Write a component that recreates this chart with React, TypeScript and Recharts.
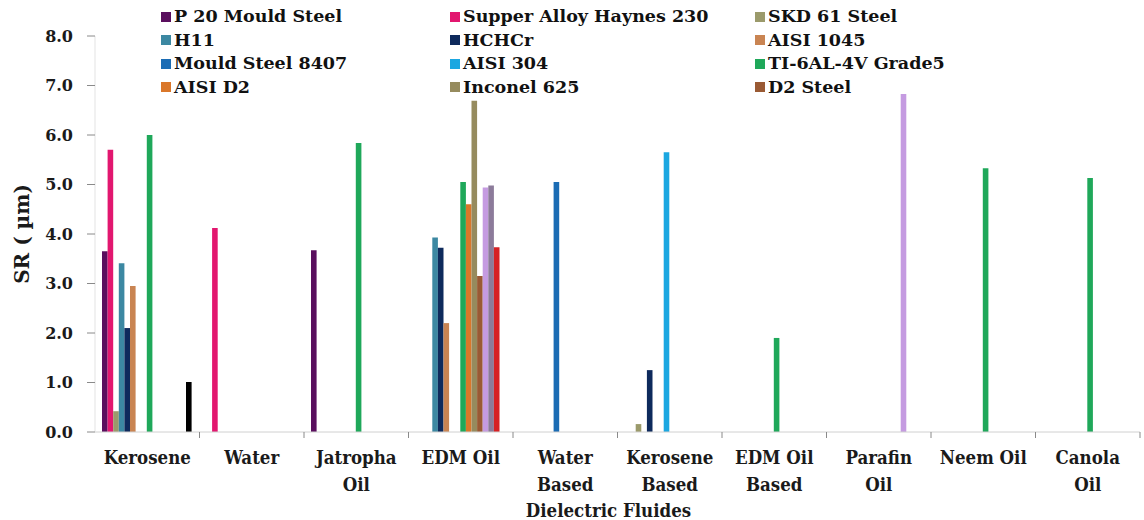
import React from 'react';
import { BarChart, Bar, XAxis, YAxis, Legend } from 'recharts';

const categories = [
  'Kerosene', 'Water', 'Jatropha\nOil', 'EDM Oil', 'Water\nBased',
  'Kerosene\nBased', 'EDM Oil\nBased', 'Parafin\nOil', 'Neem Oil', 'Canola\nOil',
];

const seriesNames = [
  'P 20 Mould Steel', 'Supper Alloy Haynes 230', 'SKD 61 Steel',
  'H11', 'HCHCr', 'AISI 1045',
  'Mould Steel 8407', 'AISI 304', 'TI-6AL-4V Grade5',
  'AISI D2', 'Inconel 625', 'D2 Steel',
  'Series 13', 'Series 14', 'Series 15', 'Series 16',
];

const seriesColors = [
  '#5a0f5e', '#e2176f', '#9b9a6b',
  '#3c88a2', '#0e2a5c', '#c98452',
  '#1b6cb4', '#1ba7e1', '#1fa85a',
  '#da772a', '#968b5e', '#9a5a34',
  '#c59be1', '#8c7b9a', '#d62024', '#000000',
];

const legendCount = 12;

const p20 = [3.65, null, 3.67, null, null, null, null, null, null, null];
const haynes = [5.7, 4.12, null, null, null, null, null, null, null, null];
const skd61 = [0.42, null, null, null, null, 0.16, null, null, null, null];
const h11 = [3.41, null, null, 3.93, null, null, null, null, null, null];
const hchcr = [2.1, null, null, 3.72, null, 1.25, null, null, null, null];
const aisi1045 = [2.95, null, null, 2.2, null, null, null, null, null, null];
const mould8407 = [null, null, null, null, 5.05, null, null, null, null, null];
const aisi304 = [null, null, null, null, null, 5.65, null, null, null, null];
const ti6al4v = [6.0, null, 5.84, 5.05, null, null, 1.9, null, 5.33, 5.13];
const aisiD2 = [null, null, null, 4.6, null, null, null, null, null, null];
const inconel625 = [null, null, null, 6.69, null, null, null, null, null, null];
const d2Steel = [null, null, null, 3.15, null, null, null, null, null, null];
const series13 = [null, null, null, 4.94, null, null, null, 6.83, null, null];
const series14 = [null, null, null, 4.98, null, null, null, null, null, null];
const series15 = [null, null, null, 3.73, null, null, null, null, null, null];
const series16 = [1.01, null, null, null, null, null, null, null, null, null];

const seriesValues = [
  p20, haynes, skd61, h11, hchcr, aisi1045, mould8407, aisi304,
  ti6al4v, aisiD2, inconel625, d2Steel, series13, series14, series15, series16,
];

const yTicks = [0, 1, 2, 3, 4, 5, 6, 7, 8];

const data = categories.map((c, i) => {
  const row: Record<string, any> = { name: c };
  seriesValues.forEach((vals, s) => {
    row['s' + s] = vals[i];
  });
  return row;
});

const FONT = "'DejaVu Serif', serif";
const TXT = '#1a1a1a';

const XTick = (props: any) => {
  const { x, y, payload, width, visibleTicksCount, index } = props;
  const bw = width / visibleTicksCount;
  const lines = String(payload.value).split('\n');
  return (
    <g>
      {index > 0 && (
        <line x1={x - bw / 2} x2={x - bw / 2} y1={y} y2={y + 6} stroke="#8a8a8a" strokeWidth={1} />
      )}
      {index === visibleTicksCount - 1 && (
        <line x1={x + bw / 2} x2={x + bw / 2} y1={y} y2={y + 6} stroke="#8a8a8a" strokeWidth={1} />
      )}
      <text
        x={x}
        y={y + 32}
        textAnchor="middle"
        style={{ fontFamily: FONT, fontWeight: 'bold', fontSize: 18.5, fontStretch: 'condensed' }}
        fill={TXT}
      >
        {lines.map((l, k) => (
          <tspan key={k} x={x} dy={k === 0 ? 0 : 27}>{l}</tspan>
        ))}
      </text>
    </g>
  );
};

const renderLegend = () => {
  const items = seriesNames.slice(0, legendCount).map((n, i) => ({ name: n, color: seriesColors[i] }));
  return (
    <div
      style={{
        display: 'grid',
        gridTemplateColumns: '289px 305px 300px',
        gridAutoRows: '23.5px',
        fontFamily: FONT,
        fontWeight: 'bold',
        fontSize: 17.5,
        color: '#111',
        lineHeight: '23.5px',
      }}
    >
      {items.map((it) => (
        <div key={it.name} style={{ display: 'flex', alignItems: 'center', whiteSpace: 'nowrap' }}>
          <span style={{ display: 'inline-block', width: 10, height: 10, background: it.color, marginRight: 3 }} />
          <span>{it.name}</span>
        </div>
      ))}
    </div>
  );
};

export default function App() {
  return (
    <div style={{ position: 'absolute', left: 0, top: 0, width: 1144, height: 520, background: '#fff' }}>
      <BarChart
        width={1144}
        height={520}
        data={data}
        margin={{ top: 36, right: 4, bottom: 0, left: 0 }}
        barGap={0}
      >
        <XAxis
          dataKey="name"
          height={88}
          axisLine={{ stroke: '#d0d0d0' }}
          tickLine={false}
          tickSize={0}
          tickMargin={0}
          interval={0}
          tick={<XTick />}
          label={{
            value: 'Dielectric Fluides',
            position: 'insideBottom',
            offset: 3,
            dx: -9,
            style: { fontFamily: FONT, fontWeight: 'bold', fontSize: 18.5, fontStretch: 'condensed', fill: TXT },
          }}
        />
        <YAxis
          width={95}
          domain={[0, 8]}
          ticks={yTicks}
          interval={0}
          allowDataOverflow
          tickFormatter={(v: number) => v.toFixed(1)}
          axisLine={{ stroke: '#e3e3e3' }}
          tickLine={{ stroke: '#8a8a8a' }}
          tickSize={8}
          tickMargin={14}
          tick={{ fontFamily: FONT, fontWeight: 'bold', fontSize: 16, fill: TXT }}
          label={{
            value: 'SR ( µm)',
            angle: -90,
            position: 'insideLeft',
            offset: 22,
            style: { textAnchor: 'middle', fontFamily: FONT, fontWeight: 'bold', fontSize: 20, fill: TXT },
          }}
        />
        <Legend
          layout="vertical"
          align="center"
          verticalAlign="middle"
          content={renderLegend}
          wrapperStyle={{ top: 5, left: 161, width: 900, height: 100 }}
        />
        {seriesNames.map((n, i) => (
          <Bar
            key={n}
            dataKey={'s' + i}
            name={n}
            fill={seriesColors[i]}
            barSize={5.6}
            isAnimationActive={false}
          />
        ))}
      </BarChart>
    </div>
  );
}
